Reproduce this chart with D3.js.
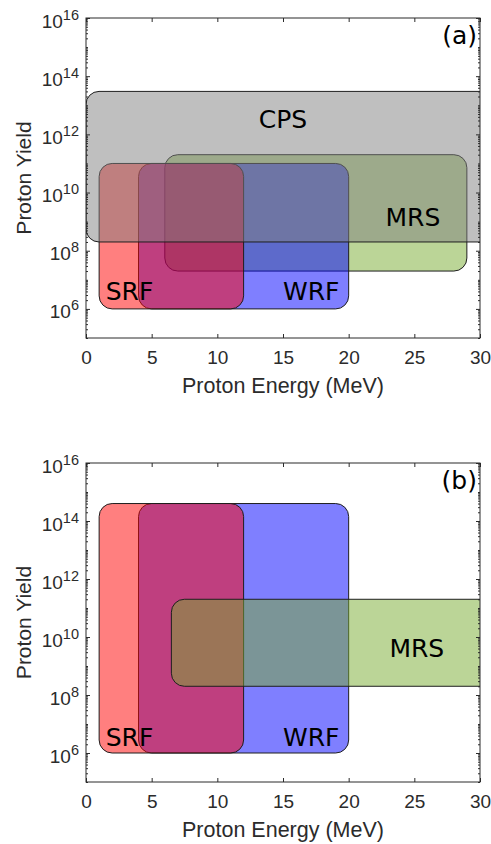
<!DOCTYPE html>
<html>
<head>
<meta charset="utf-8">
<script src="https://cdn.jsdelivr.net/npm/d3@7"></script>
<style>
  html, body { margin: 0; padding: 0; background: #fff; }
  svg { display: block; }
</style>
</head>
<body>
<script>
// ---------------- DATA ----------------
const xTicks = [0, 5, 10, 15, 20, 25, 30];
const yTickExponents = [6, 8, 10, 12, 14, 16];
const xTitle = "Proton Energy (MeV)";
const yTitle = "Proton Yield";
const panelTags = ["(a)", "(b)"];

// Panel (a) – drawn in this order
const aNames      = ["MRS", "WRF", "SRF", "CPS"];
const aEnergyMin  = [6, 4, 1, 0];
const aEnergyMax  = [29, 20, 12, 32];
const aYieldMin   = [2e7, 1e6, 1e6, 2e8];
const aYieldMax   = [2e11, 1e11, 1e11, 3e13];
const aLabelE     = [22.8, 15.0, 1.5, 15.0];
const aLabelY     = [7e8, 2e6, 2e6, 1.6e12];

// Panel (b) – drawn in this order
const bNames      = ["WRF", "SRF", "MRS"];
const bEnergyMin  = [4, 1, 6.5];
const bEnergyMax  = [20, 12, 32];
const bYieldMin   = [1e6, 1e6, 2e8];
const bYieldMax   = [4e14, 4e14, 2e11];
const bLabelE     = [15.0, 1.5, 23.1];
const bLabelY     = [1.7e6, 1.7e6, 2.1e9];

// ---------------- STYLE ----------------
const fillOf = { SRF: "rgb(255,0,0)", WRF: "rgb(0,0,255)", MRS: "rgb(119,172,48)", CPS: "rgb(128,128,128)" };
const anchorOf = { SRF: "start", WRF: "start", MRS: "start", CPS: "middle" };
const axisColor = "#2b2b2b";
const tickFont = "'Liberation Sans', Arial, Helvetica, sans-serif";
const labelFont = "'DejaVu Sans', Verdana, sans-serif";

const W = 491, H = 844;
const L = 86, R = 480;
const panels = [
  { top: 18,  bottom: 338, tag: panelTags[0], names: aNames, emin: aEnergyMin, emax: aEnergyMax, ymin: aYieldMin, ymax: aYieldMax, le: aLabelE, ly: aLabelY },
  { top: 463, bottom: 782, tag: panelTags[1], names: bNames, emin: bEnergyMin, emax: bEnergyMax, ymin: bYieldMin, ymax: bYieldMax, le: bLabelE, ly: bLabelY }
];

const svg = d3.select("body").append("svg")
  .attr("width", W).attr("height", H)
  .attr("viewBox", `0 0 ${W} ${H}`);
svg.append("rect").attr("width", W).attr("height", H).attr("fill", "#fff");

const x = d3.scaleLinear().domain([0, 30]).range([L, R]);

// minor tick values on the log axis
const minorVals = [];
for (let e = 5; e < 16; e++) {
  for (let k = 2; k <= 9; k++) minorVals.push(k * Math.pow(10, e));
  if (e % 2 === 1) minorVals.push(Math.pow(10, e));
}

panels.forEach((p, pi) => {
  const y = d3.scaleLog().domain([1e5, 1e16]).range([p.bottom, p.top]);
  const g = svg.append("g");

  const clipId = "clip" + pi;
  svg.append("clipPath").attr("id", clipId)
    .append("rect").attr("x", L).attr("y", p.top).attr("width", R - L).attr("height", p.bottom - p.top);

  const idx = d3.range(p.names.length);
  const plot = g.append("g").attr("clip-path", `url(#${clipId})`);
  plot.selectAll("rect.box").data(idx).join("rect")
    .attr("class", "box")
    .attr("x", i => x(p.emin[i]))
    .attr("y", i => y(p.ymax[i]))
    .attr("width", i => x(p.emax[i]) - x(p.emin[i]))
    .attr("height", i => y(p.ymin[i]) - y(p.ymax[i]))
    .attr("rx", 13).attr("ry", 13)
    .attr("fill", i => fillOf[p.names[i]])
    .attr("fill-opacity", 0.5)
    .attr("stroke", "#1e1e1e")
    .attr("stroke-width", 1);

  plot.selectAll("text.lbl").data(idx).join("text")
    .attr("class", "lbl")
    .attr("x", i => x(p.le[i]))
    .attr("y", i => y(p.ly[i]))
    .attr("text-anchor", i => anchorOf[p.names[i]])
    .attr("font-family", labelFont)
    .attr("font-size", 25)
    .attr("fill", "#000")
    .text(i => p.names[i]);

  // Axes
  const styleAxis = sel => {
    sel.select(".domain").remove();
    sel.selectAll("line").attr("stroke", axisColor).attr("stroke-width", 1);
    sel.selectAll("text").attr("fill", axisColor).attr("font-family", tickFont);
  };

  const xb = g.append("g").attr("transform", `translate(0,${p.bottom})`)
    .call(d3.axisBottom(x).tickValues(xTicks).tickSize(-4).tickPadding(13).tickFormat(d3.format("d")))
    .call(styleAxis);
  xb.selectAll("text").attr("font-size", 19);

  g.append("g").attr("transform", `translate(0,${p.top})`)
    .call(d3.axisTop(x).tickValues(xTicks).tickSize(-4).tickFormat(() => ""))
    .call(styleAxis);

  const majors = yTickExponents.map(e => Math.pow(10, e));
  const yl = g.append("g").attr("transform", `translate(${L},0)`)
    .call(d3.axisLeft(y).tickValues(majors).tickSize(-4).tickFormat(() => ""))
    .call(styleAxis);
  yl.selectAll(".tick text").remove();
  yl.selectAll(".tick").each(function(d) {
    const t = d3.select(this).append("text")
      .attr("x", -7).attr("y", 9)
      .attr("text-anchor", "end")
      .attr("font-family", tickFont)
      .attr("font-size", 19)
      .attr("fill", axisColor);
    t.append("tspan").text("10");
    t.append("tspan").attr("dy", -8).attr("font-size", 14.5).text(String(Math.round(Math.log10(d))));
  });

  g.append("g").attr("transform", `translate(${L},0)`)
    .call(d3.axisLeft(y).tickValues(minorVals).tickSize(-2).tickFormat(() => ""))
    .call(styleAxis);
  g.append("g").attr("transform", `translate(${R},0)`)
    .call(d3.axisRight(y).tickValues(majors).tickSize(-4).tickFormat(() => ""))
    .call(styleAxis);
  g.append("g").attr("transform", `translate(${R},0)`)
    .call(d3.axisRight(y).tickValues(minorVals).tickSize(-2).tickFormat(() => ""))
    .call(styleAxis);

  // Box
  g.append("rect")
    .attr("x", L).attr("y", p.top).attr("width", R - L).attr("height", p.bottom - p.top)
    .attr("fill", "none").attr("stroke", axisColor).attr("stroke-width", 1);

  // Titles
  g.append("text")
    .attr("x", (L + R) / 2).attr("y", p.bottom + 55)
    .attr("text-anchor", "middle")
    .attr("font-family", tickFont).attr("font-size", 21.5).attr("fill", axisColor)
    .text(xTitle);
  g.append("text")
    .attr("transform", `translate(31,${(p.top + p.bottom) / 2}) rotate(-90)`)
    .attr("text-anchor", "middle")
    .attr("font-family", tickFont).attr("font-size", 21).attr("fill", axisColor)
    .text(yTitle);

  g.append("text")
    .attr("x", R - 3).attr("y", p.top + 26)
    .attr("text-anchor", "end")
    .attr("font-family", labelFont).attr("font-size", 25).attr("fill", "#000")
    .text(p.tag);
});
</script>
</body>
</html>
